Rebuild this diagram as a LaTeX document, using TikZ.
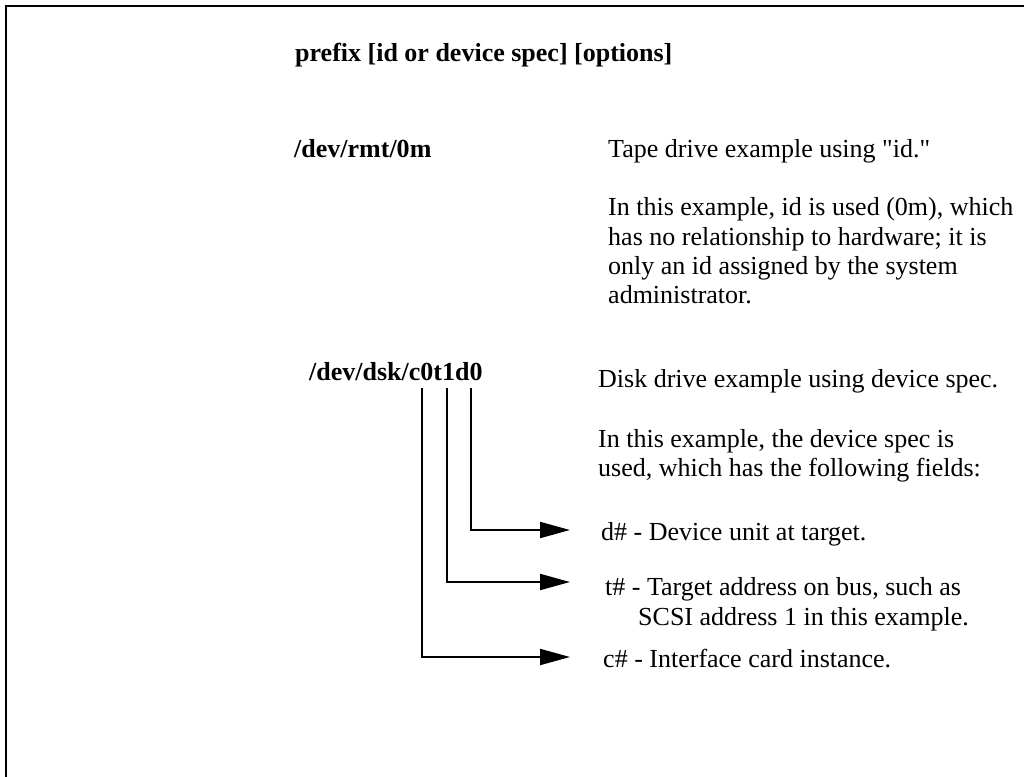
\documentclass[tikz,border=0pt]{standalone}
\usepackage{fontspec}
\setmainfont{Liberation Serif}[Ligatures=TeXOff]
\usetikzlibrary{arrows.meta}
\begin{document}
\begin{tikzpicture}[x=1pt,y=-1pt,
  txt/.style={anchor=base west,inner sep=0pt,font=\fontsize{26}{29.5}\selectfont},
  btxt/.style={txt,font=\fontsize{26}{29.5}\selectfont\bfseries},
  frame/.style={line width=2pt},
  conn/.style={line width=2pt,-{Triangle[length=30pt,width=16pt]}}]
\useasboundingbox (0,0) rectangle (1024,776);
\draw[frame] (1030,6) -- (6,6) -- (6,782);
% headings
\node[btxt] (title) at (295,61) {prefix [id or device spec] [options]};
\node[btxt] (rmt) at (294,157) {/dev/rmt/0m};
\node[txt] (tapeA) at (608,157) {Tape drive example using "id."};
\node[txt] (tapeB1) at (608,215) {In this example, id is used (0m), which};
\node[txt] (tapeB2) at (608,245) {has no relationship to hardware; it is};
\node[txt] (tapeB3) at (608,274) {only an id assigned by the system};
\node[txt] (tapeB4) at (608,303) {administrator.};
\node[btxt] (dsk) at (309,380) {/dev/dsk/c0t1d0};
\node[txt] (diskA) at (598,387) {Disk drive example using device spec.};
\node[txt] (diskB1) at (598,447) {In this example, the device spec is};
\node[txt] (diskB2) at (598,476) {used, which has the following fields:};
\node[txt] (dLbl) at (601,540) {d\# - Device unit at target.};
\node[txt] (tLbl1) at (605,595) {t\# - Target address on bus, such as};
\node[txt] (tLbl2) at (638,625) {SCSI address 1 in this example.};
\node[txt] (cLbl) at (603,667) {c\# - Interface card instance.};
% connectors
\coordinate (cTop) at (422,388);
\coordinate (tTop) at (446.7,388);
\coordinate (dTop) at (471,388);
\coordinate (dEnd) at (570,530);
\coordinate (tEnd) at (570,582);
\coordinate (cEnd) at (570,657);
\draw[conn] (dTop) |- (dEnd);
\draw[conn] (tTop) |- (tEnd);
\draw[conn] (cTop) |- (cEnd);
\end{tikzpicture}
\end{document}
